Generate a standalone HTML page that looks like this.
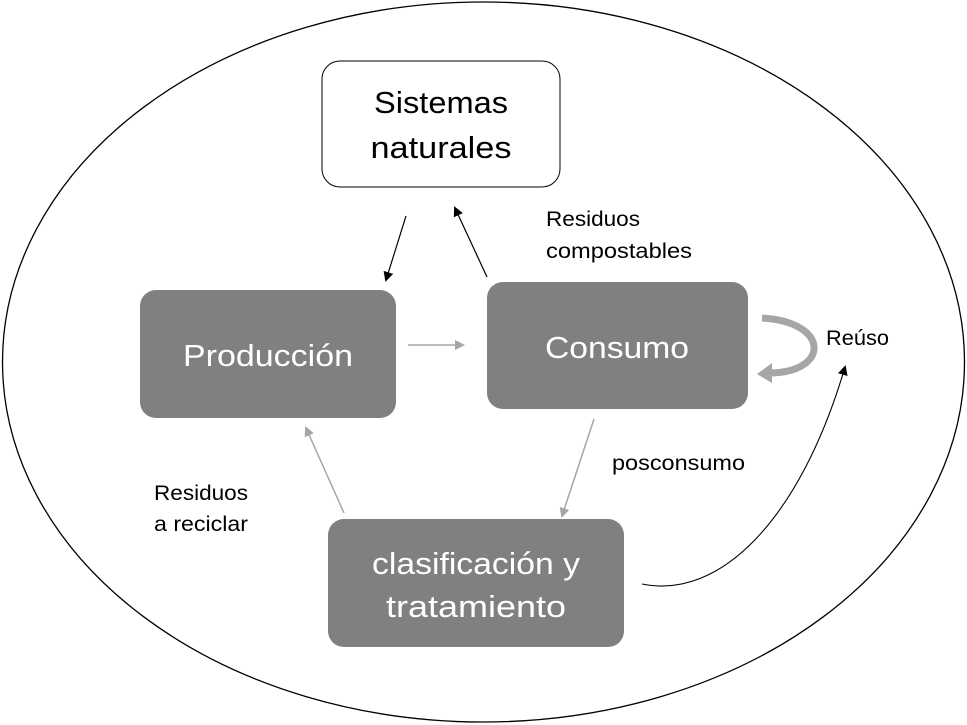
<!DOCTYPE html>
<html><head><meta charset="utf-8"><style>
html,body{margin:0;padding:0;background:#fff;}
svg{display:block;}
text{font-family:"Liberation Sans",sans-serif;}
</style></head><body>
<svg width="967" height="725" viewBox="0 0 967 725" xmlns="http://www.w3.org/2000/svg">
<defs>
<marker id="ab" markerWidth="10" markerHeight="10" refX="8" refY="5" orient="auto" markerUnits="userSpaceOnUse"><path d="M0,0 L10,5 L0,10 z" fill="#000"/></marker>
<marker id="ag" markerWidth="10" markerHeight="10" refX="8" refY="5" orient="auto" markerUnits="userSpaceOnUse"><path d="M0,0 L10,5 L0,10 z" fill="#a6a6a6"/></marker>
</defs>
<ellipse cx="483.5" cy="362" rx="481" ry="360" fill="#fff" stroke="#000" stroke-width="1.3"/>
<rect x="322" y="61" width="238" height="126" rx="18" fill="#fff" stroke="#000" stroke-width="1"/>
<text x="441" y="113" font-size="31" text-anchor="middle" textLength="134" lengthAdjust="spacingAndGlyphs">Sistemas</text>
<text x="441" y="158" font-size="31" text-anchor="middle" textLength="141" lengthAdjust="spacingAndGlyphs">naturales</text>
<rect x="140" y="290" width="256" height="128" rx="16" fill="#808080"/>
<text x="268" y="366" font-size="31" fill="#fff" text-anchor="middle" textLength="170" lengthAdjust="spacingAndGlyphs">Producción</text>
<rect x="487" y="282" width="261" height="127" rx="16" fill="#808080"/>
<text x="617" y="358" font-size="31" fill="#fff" text-anchor="middle" textLength="144" lengthAdjust="spacingAndGlyphs">Consumo</text>
<rect x="328" y="519" width="296" height="128" rx="16" fill="#808080"/>
<text x="476" y="574" font-size="31" fill="#fff" text-anchor="middle" textLength="208" lengthAdjust="spacingAndGlyphs">clasificación y</text>
<text x="476" y="617" font-size="31" fill="#fff" text-anchor="middle" textLength="180" lengthAdjust="spacingAndGlyphs">tratamiento</text>
<line x1="406" y1="216" x2="386" y2="280" stroke="#000" stroke-width="1.2" marker-end="url(#ab)"/>
<line x1="487" y1="277" x2="455" y2="208" stroke="#000" stroke-width="1.2" marker-end="url(#ab)"/>
<line x1="408" y1="345" x2="463" y2="345" stroke="#a6a6a6" stroke-width="1.5" marker-end="url(#ag)"/>
<line x1="594" y1="419" x2="562" y2="516" stroke="#a6a6a6" stroke-width="1.5" marker-end="url(#ag)"/>
<line x1="344" y1="513" x2="306" y2="428" stroke="#a6a6a6" stroke-width="1.5" marker-end="url(#ag)"/>
<path d="M642,584 C720,600 800,520 845,367" fill="none" stroke="#000" stroke-width="1.1" marker-end="url(#ab)"/>
<path d="M762,318 C830,322 830,372 770,373" fill="none" stroke="#a6a6a6" stroke-width="7"/>
<path d="M772,363 L757,374 L772,383 z" fill="#a6a6a6"/>
<text x="546" y="226" font-size="21" textLength="94" lengthAdjust="spacingAndGlyphs">Residuos</text>
<text x="546" y="258" font-size="21" textLength="146" lengthAdjust="spacingAndGlyphs">compostables</text>
<text x="826" y="345" font-size="21" textLength="63" lengthAdjust="spacingAndGlyphs">Reúso</text>
<text x="612" y="470" font-size="21" textLength="133" lengthAdjust="spacingAndGlyphs">posconsumo</text>
<text x="154" y="500" font-size="21" textLength="94" lengthAdjust="spacingAndGlyphs">Residuos</text>
<text x="154" y="531" font-size="21" textLength="94" lengthAdjust="spacingAndGlyphs">a reciclar</text>
</svg>
</body></html>
